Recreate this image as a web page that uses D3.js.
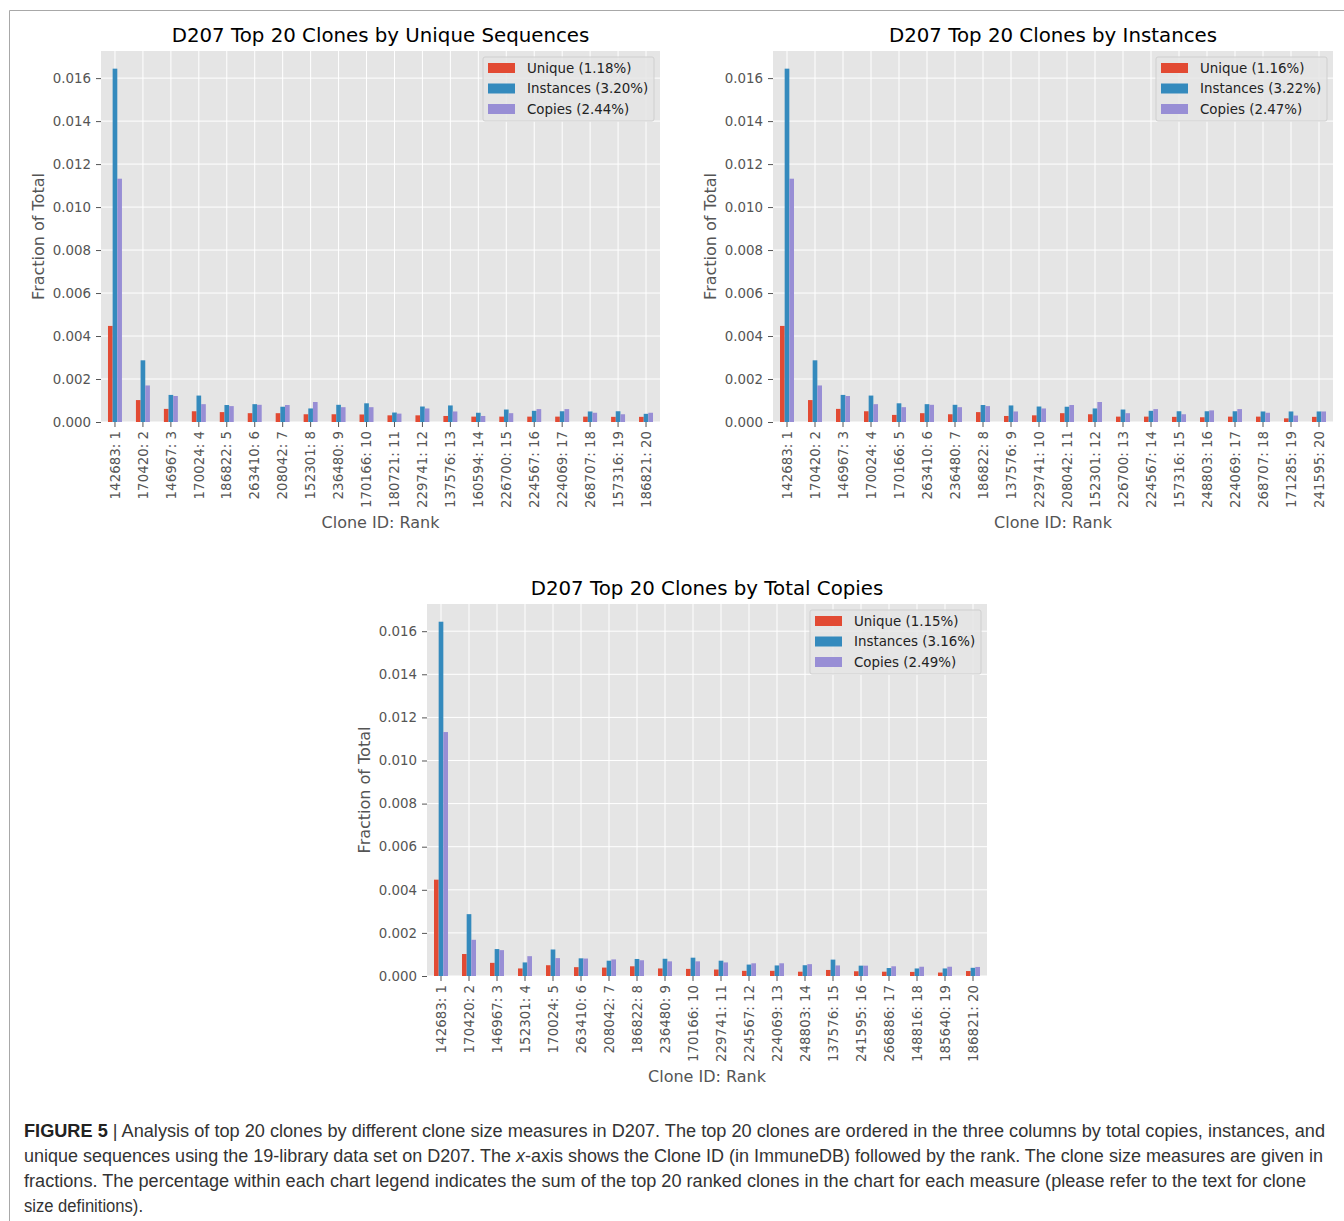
<!DOCTYPE html>
<html>
<head>
<meta charset="utf-8">
<script src="https://cdn.jsdelivr.net/npm/d3@7"></script>
<style>
  body { margin: 0; background: #fff; }
  svg { display: block; }
  .tick text { font-family: "DejaVu Sans", sans-serif; fill: #555; }
</style>
</head>
<body>
<div id="fig"></div>
<script>
// series names + legend colours (ggplot style)
const seriesNames = ["Unique", "Instances", "Copies"];
const yTicks = [0, 0.002, 0.004, 0.006, 0.008, 0.010, 0.012, 0.014, 0.016];

// chart 1: ordered by unique sequences
const seqClones = ["142683: 1", "170420: 2", "146967: 3", "170024: 4", "186822: 5", "263410: 6", "208042: 7", "152301: 8", "236480: 9", "170166: 10",
  "180721: 11", "229741: 12", "137576: 13", "160594: 14", "226700: 15", "224567: 16", "224069: 17", "268707: 18", "157316: 19", "186821: 20"];
const seqUnique = [0.00447, 0.00102, 0.00061, 0.0005, 0.00046, 0.00041, 0.00041, 0.00036, 0.00036, 0.00035,
  0.00031, 0.00031, 0.00028, 0.00025, 0.00025, 0.00025, 0.00025, 0.00025, 0.00024, 0.00024];
const seqInstances = [0.01644, 0.00287, 0.00126, 0.00123, 0.00079, 0.00083, 0.00071, 0.00063, 0.0008, 0.00087,
  0.00044, 0.00072, 0.00077, 0.00043, 0.00058, 0.00052, 0.0005, 0.00049, 0.0005, 0.00038];
const seqCopies = [0.01132, 0.0017, 0.00121, 0.00083, 0.00074, 0.0008, 0.00079, 0.00093, 0.00069, 0.00069,
  0.00039, 0.00063, 0.00049, 0.00028, 0.00041, 0.0006, 0.0006, 0.00043, 0.00036, 0.00043];
const seqLegend = ["Unique (1.18%)", "Instances (3.20%)", "Copies (2.44%)"];

// chart 2: ordered by instances
const instClones = ["142683: 1", "170420: 2", "146967: 3", "170024: 4", "170166: 5", "263410: 6", "236480: 7", "186822: 8", "137576: 9", "229741: 10",
  "208042: 11", "152301: 12", "226700: 13", "224567: 14", "157316: 15", "248803: 16", "224069: 17", "268707: 18", "171285: 19", "241595: 20"];
const instUnique = [0.00447, 0.00102, 0.00061, 0.0005, 0.00033, 0.00041, 0.00036, 0.00046, 0.00028, 0.00031,
  0.00041, 0.00036, 0.00025, 0.00025, 0.00024, 0.00022, 0.00025, 0.00025, 0.00017, 0.00024];
const instInstances = [0.01644, 0.00287, 0.00126, 0.00123, 0.00087, 0.00083, 0.0008, 0.00079, 0.00077, 0.00072,
  0.00071, 0.00063, 0.00058, 0.00052, 0.0005, 0.0005, 0.0005, 0.00049, 0.00049, 0.00049];
const instCopies = [0.01132, 0.0017, 0.00121, 0.00083, 0.00069, 0.0008, 0.00069, 0.00074, 0.00049, 0.00063,
  0.00079, 0.00093, 0.00041, 0.0006, 0.00036, 0.00054, 0.0006, 0.00043, 0.0003, 0.00049];
const instLegend = ["Unique (1.16%)", "Instances (3.22%)", "Copies (2.47%)"];

// chart 3: ordered by total copies
const copyClones = ["142683: 1", "170420: 2", "146967: 3", "152301: 4", "170024: 5", "263410: 6", "208042: 7", "186822: 8", "236480: 9", "170166: 10",
  "229741: 11", "224567: 12", "224069: 13", "248803: 14", "137576: 15", "241595: 16", "266886: 17", "148816: 18", "185640: 19", "186821: 20"];
const copyUnique = [0.00447, 0.00102, 0.00061, 0.00035, 0.0005, 0.00041, 0.00039, 0.00045, 0.00035, 0.00033,
  0.0003, 0.00024, 0.00024, 0.0002, 0.00028, 0.00022, 0.0002, 0.00019, 0.00016, 0.00023];
const copyInstances = [0.01644, 0.00287, 0.00125, 0.00063, 0.00123, 0.00082, 0.00071, 0.00079, 0.0008, 0.00085,
  0.00071, 0.00053, 0.00049, 0.0005, 0.00076, 0.00048, 0.00037, 0.00035, 0.00035, 0.00038];
const copyCopies = [0.01132, 0.00168, 0.0012, 0.00092, 0.00083, 0.00081, 0.00077, 0.00073, 0.00068, 0.00068,
  0.00063, 0.00059, 0.00059, 0.00055, 0.00049, 0.00048, 0.00045, 0.00043, 0.00043, 0.00042];
const copyLegend = ["Unique (1.15%)", "Instances (3.16%)", "Copies (2.49%)"];

const captionLines = [
  "Analysis of top 20 clones by different clone size measures in D207. The top 20 clones are ordered in the three columns by total copies, instances, and",
  "unique sequences using the 19-library data set on D207. The |x|-axis shows the Clone ID (in ImmuneDB) followed by the rank. The clone size measures are given in",
  "fractions. The percentage within each chart legend indicates the sum of the top 20 ranked clones in the chart for each measure (please refer to the text for clone",
  "size definitions)."
];

const W = 1344, H = 1221;
const svg = d3.select("#fig").append("svg").attr("width", W).attr("height", H);

// figure frame
svg.append("path")
  .attr("d", `M9.5 ${H} V10.5 H${W}`)
  .attr("fill", "none").attr("stroke", "#a8a8a8").attr("stroke-width", 1);

class GroupedBar {
  constructor(options) {
    let o = {
      svg: null,
      title: "",
      labels: [],
      series: [],
      legend: [],
      colorList: ["#E24A33", "#348ABD", "#988ED5"],
      left: 0,
      top: 0,
      width: 560,
      height: 371
    };
    Object.assign(o, options);
    Object.assign(this, o);
    this._init();
  }

  _init() {
    this.group = this.svg.append("g")
      .attr("transform", `translate(${this.left},${this.top})`);
    this.group.append("rect")
      .attr("width", this.width).attr("height", this.height)
      .attr("fill", "#E5E5E5");
    this._createYaxis();
    this._createXaxis();
    this._createBars();
    this._createLegend();
    this._createTexts();
  }

  _createYaxis() {
    const ymax = d3.max(this.series.flat()) * 1.05;
    this.yScale = d3.scaleLinear().domain([0, ymax]).range([this.height, 0]);

    this.group.append("g").attr("class", "ygrid")
      .selectAll("line").data(yTicks).enter().append("line")
      .attr("x1", 0).attr("x2", this.width)
      .attr("y1", d => this.yScale(d)).attr("y2", d => this.yScale(d))
      .attr("stroke", "#fff").attr("stroke-width", 1);

    const yAxis = this.group.append("g").attr("class", "yAxis")
      .call(d3.axisLeft(this.yScale).tickValues(yTicks).tickFormat(d3.format(".3f"))
        .tickSize(5).tickPadding(5));
    yAxis.select(".domain").remove();
    yAxis.selectAll(".tick line").attr("stroke", "#555");
    yAxis.selectAll(".tick text").attr("font-size", 13.4);
  }

  _createXaxis() {
    this.xScale = d3.scaleBand().domain(this.labels).range([0, this.width])
      .paddingInner(0).paddingOuter(0);

    this.group.append("g").attr("class", "xgrid")
      .selectAll("line").data(this.labels).enter().append("line")
      .attr("x1", d => this.xScale(d) + this.xScale.bandwidth() / 2)
      .attr("x2", d => this.xScale(d) + this.xScale.bandwidth() / 2)
      .attr("y1", 0).attr("y2", this.height)
      .attr("stroke", "#fff").attr("stroke-width", 1);

    const xAxis = this.group.append("g").attr("class", "xAxis")
      .attr("transform", `translate(0,${this.height})`)
      .call(d3.axisBottom(this.xScale).tickSize(5).tickPadding(5));
    xAxis.select(".domain").remove();
    xAxis.selectAll(".tick line").attr("stroke", "#555");
    xAxis.selectAll(".tick text")
      .attr("font-size", 13.4)
      .attr("transform", "rotate(-90)")
      .attr("text-anchor", "end")
      .attr("x", -9).attr("y", 0).attr("dy", "0.35em");
  }

  _createBars() {
    const bw = this.xScale.bandwidth();
    // pandas bar width 0.5 of slot, split between the series
    this.inner = d3.scaleBand().domain(seriesNames).range([0, bw * 0.5]);
    const rows = [];
    this.series.forEach((vals, s) => {
      vals.forEach((v, i) => rows.push({ name: this.labels[i], key: seriesNames[s], s, value: v }));
    });
    this.group.append("g").attr("class", "bars")
      .selectAll("rect").data(rows).enter().append("rect")
      .attr("x", d => this.xScale(d.name) + bw * 0.25 + this.inner(d.key))
      .attr("width", this.inner.bandwidth())
      .attr("y", d => this.yScale(d.value))
      .attr("height", d => this.height - this.yScale(d.value))
      .attr("fill", d => this.colorList[d.s]);
  }

  _createLegend() {
    const bw = 171, bh = 64;
    const lg = this.group.append("g")
      .attr("transform", `translate(${this.width - bw - 6},${6})`);
    lg.append("rect").attr("width", bw).attr("height", bh)
      .attr("rx", 2).attr("fill", "#E5E5E5").attr("fill-opacity", 0.85)
      .attr("stroke", "#cfcfcf");
    const item = lg.selectAll(".item").data(this.legend).enter().append("g")
      .attr("transform", (d, i) => `translate(5,${11 + i * 20.5})`);
    item.append("rect").attr("x", 0).attr("y", -5).attr("width", 27).attr("height", 10)
      .attr("fill", (d, i) => this.colorList[i]);
    item.append("text").attr("x", 39).attr("dy", "0.35em")
      .attr("font-family", "DejaVu Sans, sans-serif").attr("font-size", 13.4)
      .attr("fill", "#222").text(d => d);
  }

  _createTexts() {
    this.group.append("text")
      .attr("x", this.width / 2).attr("y", -9)
      .attr("text-anchor", "middle")
      .attr("font-family", "DejaVu Sans, sans-serif").attr("font-size", 19.8)
      .attr("fill", "#000").text(this.title);
    this.group.append("text")
      .attr("x", this.width / 2).attr("y", this.height + 106)
      .attr("text-anchor", "middle")
      .attr("font-family", "DejaVu Sans, sans-serif").attr("font-size", 16)
      .attr("fill", "#555").text("Clone ID: Rank");
    this.group.append("text")
      .attr("transform", `translate(-57,${this.height / 2}) rotate(-90)`)
      .attr("text-anchor", "middle")
      .attr("font-family", "DejaVu Sans, sans-serif").attr("font-size", 16)
      .attr("fill", "#555").text("Fraction of Total");
  }
}

new GroupedBar({
  svg, title: "D207 Top 20 Clones by Unique Sequences",
  labels: seqClones, series: [seqUnique, seqInstances, seqCopies], legend: seqLegend,
  left: 101, top: 51, width: 559, height: 371
});
new GroupedBar({
  svg, title: "D207 Top 20 Clones by Instances",
  labels: instClones, series: [instUnique, instInstances, instCopies], legend: instLegend,
  left: 773, top: 51, width: 560, height: 371
});
new GroupedBar({
  svg, title: "D207 Top 20 Clones by Total Copies",
  labels: copyClones, series: [copyUnique, copyInstances, copyCopies], legend: copyLegend,
  left: 427, top: 604, width: 560, height: 372
});

// caption
const capFont = "'Liberation Sans Narrow', 'Liberation Sans', Arial, sans-serif";
const capWidths = [1301, 1299, 1282, 119];
captionLines.forEach((line, i) => {
  const t = svg.append("text")
    .attr("x", 24).attr("y", 1137 + i * 25)
    .attr("font-family", capFont).attr("font-size", 17.5).attr("fill", "#333");
  if (i === 0) {
    t.append("tspan").attr("font-weight", "bold").attr("fill", "#222").text("FIGURE 5");
    t.append("tspan").text(" | " + line);
  } else {
    line.split("|").forEach((part, k) => {
      t.append("tspan").attr("font-style", k === 1 ? "italic" : null).text(part);
    });
  }
  if (capWidths[i]) t.attr("textLength", capWidths[i]).attr("lengthAdjust", "spacingAndGlyphs");
});
</script>
</body>
</html>
